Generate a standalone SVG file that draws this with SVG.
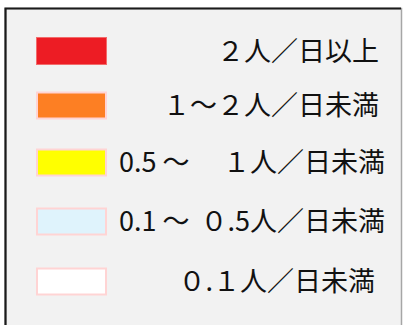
<svg xmlns="http://www.w3.org/2000/svg" width="403" height="325" viewBox="0 0 403 325">
<style>
.t{font-family:"Noto Sans CJK JP","Noto Sans",sans-serif;font-size:27px;fill:#111}
.e{text-anchor:end}
.sw{stroke:#ffd4d4;stroke-width:2}
</style>
<rect width="403" height="325" fill="#ffffff"/>
<rect x="5.5" y="8.5" width="396" height="330" fill="#f2f2f2" stroke="#a6a6a6" stroke-width="1.5"/>
<path d="M5.5 330 V8.5 H401" fill="none" stroke="#1a1a1a" stroke-width="2.2"/>
<g id="item1">
<rect x="36.5" y="37.5" width="70" height="27" fill="#ed1c24" stroke="#f26b6b" stroke-width="1"/>
<text class="t e" x="379" y="61">２人／日以上</text>
</g>
<g id="item2">
<rect x="37" y="92.5" width="69" height="26" fill="#fd7f23" class="sw" stroke="#ff7a7a"/>
<text class="t e" x="379" y="115">１～２人／日未満</text>
</g>
<g id="item3">
<rect x="37" y="149.5" width="69" height="26" fill="#ffff00" class="sw"/>
<text class="t" x="119" y="172" xml:space="preserve">0.5 ～</text>
<text class="t e" x="385" y="172">１人／日未満</text>
</g>
<g id="item4">
<rect x="37" y="208.5" width="69" height="26" fill="#dff3fc" class="sw"/>
<text class="t" x="119" y="231" xml:space="preserve">0.1 ～</text>
<text class="t e" x="385" y="231">０.5人／日未満</text>
</g>
<g id="item5">
<rect x="37" y="268.5" width="69" height="26" fill="#ffffff" class="sw"/>
<text class="t e" x="375" y="291">０.１人／日未満</text>
</g>
</svg>
